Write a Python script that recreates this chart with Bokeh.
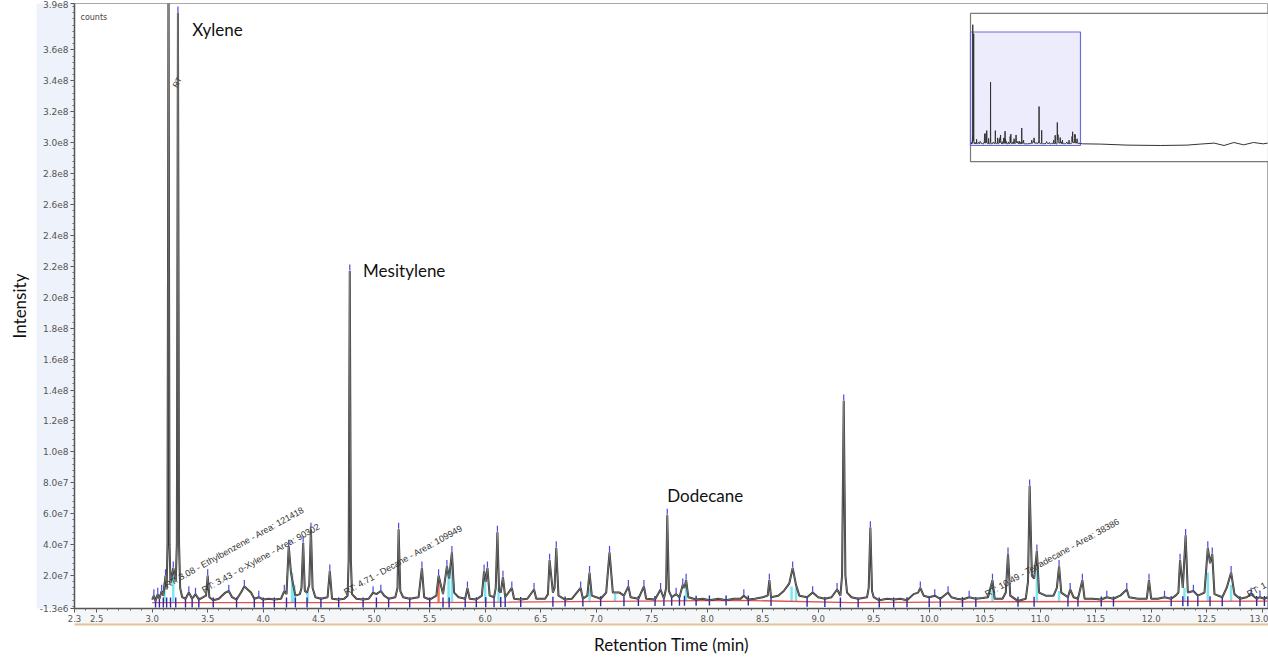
import numpy as np
from bokeh.plotting import figure
from bokeh.models import Range1d, LinearAxis, FixedTicker, PrintfTickFormatter
from bokeh.core.properties import value
from bokeh.embed import file_html
from bokeh.resources import INLINE

# ---------------- data ----------------
trace_t = [3.00, 3.015, 3.03, 3.05, 3.065, 3.085, 3.10, 3.12, 3.13, 3.138,
           3.147, 3.156, 3.165, 3.19, 3.212, 3.222, 3.232, 3.242, 3.252, 3.27,
           3.30, 3.33, 3.36, 3.39, 3.42, 3.46, 3.485, 3.50, 3.515, 3.55,
           3.60, 3.66, 3.69, 3.72, 3.76, 3.80, 3.83, 3.86, 3.89, 3.92,
           3.96, 4.00, 4.05, 4.10, 4.16, 4.19, 4.21, 4.23, 4.25, 4.27,
           4.29, 4.33, 4.345, 4.36, 4.375, 4.395, 4.415, 4.43, 4.445, 4.47,
           4.52, 4.58, 4.60, 4.62, 4.68, 4.73, 4.76, 4.77, 4.78, 4.79,
           4.80, 4.84, 4.90, 4.95, 4.99, 5.02, 5.06, 5.09, 5.13, 5.19,
           5.21, 5.22, 5.235, 5.26, 5.32, 5.40, 5.43, 5.45, 5.50, 5.56,
           5.58, 5.62, 5.655, 5.675, 5.70, 5.72, 5.76, 5.82, 5.84, 5.86,
           5.92, 5.97, 5.99, 6.005, 6.02, 6.04, 6.08, 6.095, 6.11, 6.125,
           6.14, 6.16, 6.18, 6.24, 6.26, 6.32, 6.38, 6.44, 6.46, 6.54,
           6.565, 6.58, 6.61, 6.625, 6.64, 6.66, 6.72, 6.78, 6.86, 6.88,
           6.92, 6.94, 6.96, 7.04, 7.09, 7.12, 7.15, 7.21, 7.25, 7.29,
           7.31, 7.38, 7.43, 7.45, 7.53, 7.58, 7.61, 7.63, 7.64, 7.655,
           7.68, 7.72, 7.75, 7.78, 7.795, 7.81, 7.83, 7.90, 7.96, 8.02,
           8.10, 8.17, 8.24, 8.30, 8.33, 8.37, 8.43, 8.50, 8.545, 8.56,
           8.575, 8.64, 8.69, 8.74, 8.77, 8.80, 8.83, 8.90, 8.95, 9.00,
           9.06, 9.12, 9.17, 9.20, 9.215, 9.23, 9.245, 9.26, 9.30, 9.36,
           9.44, 9.455, 9.47, 9.485, 9.50, 9.55, 9.62, 9.68, 9.74, 9.80,
           9.86, 9.90, 9.92, 9.95, 10.00, 10.05, 10.10, 10.17, 10.20, 10.25,
           10.30, 10.36, 10.42, 10.48, 10.53, 10.57, 10.59, 10.66, 10.69, 10.71,
           10.73, 10.80, 10.87, 10.89, 10.905, 10.925, 10.945, 10.97, 10.99, 11.05,
           11.12, 11.15, 11.17, 11.19, 11.25, 11.27, 11.30, 11.34, 11.38, 11.40,
           11.47, 11.55, 11.60, 11.66, 11.72, 11.78, 11.80, 11.88, 11.96, 11.98,
           12.00, 12.06, 12.12, 12.18, 12.22, 12.245, 12.26, 12.285, 12.31, 12.33,
           12.38, 12.42, 12.48, 12.51, 12.53, 12.55, 12.57, 12.64, 12.68, 12.72,
           12.75, 12.80, 12.86, 12.90, 12.95, 12.98, 13.02, 13.05]
trace_i = [4.5e6, 7e6, 3.5e6, 8e6, 5e6, 1.0e7, 7e6, 2.0e7, 1.1e7, 4.0e7,
           4.15e8, 4.0e7, 1.5e7, 2.5e7, 1.6e7, 4.0e7, 3.84e8, 4.0e7, 1.2e7, 6e6,
           5e6, 9e6, 5e6, 8e6, 4.5e6, 6e6, 7e6, 2.0e7, 6e6, 4e6,
           5e6, 9e6, 1.0e7, 6e6, 4.5e6, 9e6, 1.3e7, 1.1e7, 9e6, 5e6,
           6e6, 4.5e6, 5e6, 4.5e6, 5e6, 1.0e7, 8e6, 3.9e7, 2.2e7, 1.4e7,
           7e6, 8e6, 1.2e7, 4.1e7, 1.0e7, 9e6, 1.4e7, 5.0e7, 1.2e7, 6e6,
           5e6, 6e6, 2.3e7, 5e6, 4.5e6, 5e6, 7e6, 3.0e7, 2.17e8, 3.0e7,
           8e6, 5e6, 4.5e6, 5e6, 9e6, 8e6, 1.0e7, 7e6, 5e6, 6e6,
           1.2e7, 5.0e7, 1.0e7, 6e6, 5e6, 6e6, 2.5e7, 6e6, 4.5e6, 7e6,
           2.0e7, 8e6, 2.6e7, 1.8e7, 3.5e7, 9e6, 6e6, 5e6, 1.2e7, 5e6,
           4.5e6, 7e6, 2.3e7, 1.6e7, 2.5e7, 7e6, 6e6, 1.2e7, 4.8e7, 1.0e7,
           9e6, 1.9e7, 6e6, 1.2e7, 5e6, 4.5e6, 5e6, 1.1e7, 5e6, 5e6,
           8e6, 3.0e7, 9e6, 1.2e7, 3.8e7, 7e6, 4.5e6, 5e6, 1.2e7, 5e6,
           7e6, 2.2e7, 7e6, 5e6, 9e6, 3.5e7, 9e6, 9e6, 7e6, 1.3e7,
           6e6, 5e6, 1.3e7, 5e6, 4.5e6, 1.1e7, 5e6, 1.2e7, 5.9e7, 1.0e7,
           6e6, 8e6, 6e6, 1.4e7, 1.2e7, 1.7e7, 6e6, 4.5e6, 5e6, 4e6,
           5e6, 4e6, 5e6, 5e6, 7e6, 4.5e6, 5e6, 6e6, 7e6, 1.7e7,
           6e6, 7e6, 1.0e7, 1.5e7, 2.5e7, 1.4e7, 7e6, 6e6, 9e6, 6e6,
           5e6, 6e6, 1.1e7, 7e6, 2.0e7, 1.33e8, 2.0e7, 9e6, 6e6, 5e6,
           6e6, 1.2e7, 5.1e7, 1.0e7, 6e6, 4e6, 5e6, 4.5e6, 5e6, 4e6,
           8e6, 9e6, 1.2e7, 7e6, 6e6, 7e6, 5e6, 9e6, 6e6, 5e6,
           4.5e6, 6e6, 5e6, 5.5e6, 6e6, 1.7e7, 5e6, 5e6, 9e6, 3.4e7,
           7e6, 3.5e6, 5e6, 1.6e7, 7.8e7, 2.0e7, 1.8e7, 3.6e7, 9e6, 7e6,
           7e6, 1.2e7, 2.6e7, 9e6, 6e6, 1.1e7, 6e6, 5e6, 1.7e7, 5e6,
           5e6, 4.5e6, 6e6, 5e6, 7e6, 1.1e7, 6e6, 5e6, 5e6, 1.7e7,
           5e6, 5e6, 6e6, 5e6, 7e6, 9e6, 3.0e7, 1.2e7, 4.6e7, 9e6,
           1.0e7, 7e6, 9e6, 3.8e7, 2.8e7, 3.4e7, 8e6, 6e6, 1.2e7, 2.2e7,
           8e6, 5e6, 6e6, 8e6, 5e6, 6e6, 5e6, 6e6]
assert len(trace_t) == len(trace_i)

# rest of the run, only visible in the overview inset
tail_t = [13.2, 14.9, 17.3, 20.4, 22.8, 24.0, 25.3, 26.2, 27.1, 28.0, 28.9, 29.8, 30.2]
tail_i = [4.5e6, 3.5e6, 0.0, -1.3e6, 0.0, 3.5e6, 6.9e6, -1.3e6, 9e6, 1e6, 9e6, 4.5e6, 6.9e6]

# integration baseline (red)
base_t = [3.0, 5.5, 8.3, 9.3, 10.5, 13.05]
base_i = [2.5e6, 2.5e6, 4.0e6, 2.5e6, 3.0e6, 3.5e6]

# shaded (integrated) shoulder areas
cyan_t = [3.11, 3.19, 4.26, 4.28, 4.40, 5.67, 5.70, 6.00, 6.12, 6.94, 7.17, 7.81, 8.76, 8.80, 10.57, 10.97,
          11.17, 12.30, 12.51, 12.72]
cyan_top = [1.5e7, 2.2e7, 2.2e7, 1.4e7, 1.0e7, 2.2e7, 2.5e7, 1.8e7, 1.2e7, 1.2e7, 8e6, 1.2e7, 1.3e7, 1.2e7,
            1.2e7, 2.4e7, 1.0e7, 1.2e7, 2.2e7, 1.4e7]
orange_t = [5.58]
orange_top = [1.8e7]

# compound names
name_text = ["Xylene", "Mesitylene", "Dodecane"]
name_t = [3.36, 4.90, 7.64]
name_i = [3.73e8, 2.17e8, 7.15e7]

# peak annotations
ann_text = ["RT: 3.08 - Ethylbenzene - Area: 121418", "RT: 3.43 - o-Xylene - Area: 90302",
            "RT: 4.71 - Decane - Area: 109949", "RT: 10.49 - Tetradecane - Area: 38386", "RT: 1"]
ann_t = [3.12, 3.453, 4.732, 10.507, 12.867]
ann_i = [1.35e7, 1.03e7, 0.9e7, 0.77e7, 0.77e7]

x_ticks = [2.3, 2.5, 3.0, 3.5, 4.0, 4.5, 5.0, 5.5, 6.0, 6.5, 7.0, 7.5, 8.0, 8.5, 9.0, 9.5, 10.0, 10.5, 11.0,
           11.5, 12.0, 12.5, 13.0]
y_ticks = [-1.3e6, 2e7, 4e7, 6e7, 8e7, 1e8, 1.2e8, 1.4e8, 1.6e8, 1.8e8, 2e8, 2.2e8, 2.4e8, 2.6e8, 2.8e8,
           3e8, 3.2e8, 3.4e8, 3.6e8, 3.9e8]
y_tick_labels = ["-1.3e6", "2.0e7", "4.0e7", "6.0e7", "8.0e7", "1.0e8", "1.2e8", "1.4e8", "1.6e8", "1.8e8",
                 "2.0e8", "2.2e8", "2.4e8", "2.6e8", "2.8e8", "3.0e8", "3.2e8", "3.4e8", "3.6e8", "3.9e8"]

# ---------------- layout (page pixels) ----------------
W, H = 1268, 657
FRAME_L, FRAME_R, FRAME_T, FRAME_B = 74, 1268, 3, 611
PX_PER_MIN = 111.0
X0, Y0, Y1 = 2.3, -1.3e6, 3.9e8
X1 = X0 + (FRAME_R - FRAME_L) / PX_PER_MIN

# overview inset mapping
IN_L, IN_R, IN_T, IN_B = 970, 1268, 13, 162
IN_T0, IN_PX_PER_MIN = 2.94, 10.9
IN_BASE_PY, IN_PER_PX = 145.7, 3.43e6
VIEW_T0, VIEW_T1 = 2.94, 13.03


def in_t(px):
    return IN_T0 + (px - IN_L) / IN_PX_PER_MIN


def in_i(py):
    return Y0 + (IN_BASE_PY - py) * IN_PER_PX


p = figure(width=W, height=H, x_range=Range1d(X0, X1), y_range=Range1d(Y0, Y1),
           output_backend="svg", toolbar_location=None,
           min_border_left=FRAME_L, min_border_right=0, min_border_top=FRAME_T,
           min_border_bottom=H - FRAME_B,
           background_fill_color="white", border_fill_color="white",
           outline_line_color="#a8a8a8", outline_line_width=1)
p.grid.visible = False
p.extra_x_ranges = {"ix": Range1d(in_t(FRAME_L), in_t(FRAME_R))}
p.extra_y_ranges = {"iy": Range1d(in_i(FRAME_B), in_i(FRAME_T))}

# --- axes ---
xa = p.xaxis[0]
xa.ticker = FixedTicker(ticks=x_ticks, minor_ticks=[round(v, 1) for v in np.arange(2.3, 13.05, 0.1)])
xa.formatter = PrintfTickFormatter(format="%.1f")
ya = p.yaxis[0]
ya.ticker = FixedTicker(ticks=y_ticks, minor_ticks=list(np.arange(0, 3.9e8, 4e6)))
ya.major_label_overrides = {int(v): s for v, s in zip(y_ticks, y_tick_labels)}
for ax, fs in ((xa, "8.5px"), (ya, "9px")):
    ax.axis_line_color = "#555555"
    ax.axis_line_width = 1.5
    ax.major_tick_line_color = "#555555"
    ax.minor_tick_line_color = "#666666"
    ax.major_tick_out = 4
    ax.major_tick_in = 0
    ax.minor_tick_out = 2
    ax.minor_tick_in = 0
    ax.major_label_standoff = 2
    ax.major_label_text_font = "DejaVu Sans"
    ax.major_label_text_font_size = fs
    ax.major_label_text_color = "#555555"
ya.background_fill_color = "#eef3fb"
xa.background_fill_color = "#f5f6f8"

ylab = LinearAxis(ticker=FixedTicker(ticks=[]), axis_label="Intensity", axis_line_color=None,
                  major_tick_out=0, major_tick_in=0, minor_tick_out=0, minor_tick_in=0,
                  major_label_standoff=0, axis_label_standoff=7,
                  axis_label_text_font="Lato", axis_label_text_font_size="17px",
                  axis_label_text_font_style="normal", axis_label_text_color="#111111")
p.add_layout(ylab, "left")
xlab = LinearAxis(ticker=FixedTicker(ticks=[]), axis_label="Retention Time (min)",
                  axis_line_color="#e3c395", axis_line_width=2,
                  major_tick_out=0, major_tick_in=0, minor_tick_out=0, minor_tick_in=0,
                  major_label_standoff=0, axis_label_standoff=9,
                  axis_label_text_font="Lato", axis_label_text_font_size="17px",
                  axis_label_text_font_style="normal", axis_label_text_color="#111111")
p.add_layout(xlab, "below")

# --- shaded areas ---
cb = np.interp(cyan_t, base_t, base_i)
p.vbar(x=cyan_t, width=0.022, top=cyan_top, bottom=cb, fill_color="#7ee6ef", line_color=None)
ob = np.interp(orange_t, base_t, base_i)
p.vbar(x=orange_t, width=0.022, top=orange_top, bottom=ob, fill_color="#f07a5a", line_color=None)

# --- baseline ---
p.line(base_t, base_i, line_color="#e25050", line_width=1.3)

# valley markers (blue ticks crossing the baseline)
ti = np.array(trace_i)
tt = np.array(trace_t)
vmask = np.zeros(len(ti), bool)
vmask[1:-1] = (ti[1:-1] < ti[:-2]) & (ti[1:-1] < ti[2:])
vt = tt[vmask]
p.scatter(vt, np.interp(vt, base_t, base_i), marker="dash", angle=np.pi / 2, size=10,
          line_color="#2a2aa8", line_width=1.4)

# --- trace ---
p.line(trace_t, trace_i, line_color="#303030", line_width=2.0)
p.line(trace_t, trace_i, line_color="#9c9c9c", line_width=0.6)

# peak top markers
pmask = np.zeros(len(ti), bool)
pmask[1:-1] = (ti[1:-1] > ti[:-2]) & (ti[1:-1] > ti[2:]) & (ti[1:-1] > 5.5e6)
p.scatter(tt[pmask], ti[pmask] + 2.2e6, marker="dash", angle=np.pi / 2, size=6,
          line_color="#4a4ae0", line_width=1.2)

# --- annotations ---
p.text(x=ann_t, y=ann_i, text=ann_text, angle=0.506, text_font=value("Liberation Sans"),
       text_font_size="9px", text_color="#333333", text_baseline="middle", text_align="left")
p.text(x=[3.228], y=[3.39e8], text=["RT"], angle=1.05, text_font=value("Liberation Sans"),
       text_font_size="8px", text_color="#3a3a3a", text_baseline="middle", text_align="center")
p.text(x=[X0 + 6 / PX_PER_MIN], y=[Y1 - 14 * (Y1 - Y0) / (FRAME_B - FRAME_T)], text=["counts"],
       text_font=value("DejaVu Sans"), text_font_size="8px", text_color="#444444",
       text_baseline="middle", text_align="left")
p.text(x=name_t, y=name_i, text=name_text, text_font=value("Lato"), text_font_size="17px",
       text_color="#111111", text_baseline="middle", text_align="left")

# --- overview inset ---
p.quad(left=[in_t(IN_L)], right=[in_t(IN_R)], bottom=[in_i(IN_B)], top=[in_i(IN_T)],
       fill_color="white", line_color="#7a7a7a", line_width=1.2, x_range_name="ix", y_range_name="iy")
p.quad(left=[VIEW_T0], right=[VIEW_T1], bottom=[Y0], top=[Y1],
       fill_color="#ececfd", line_color="#6c6cd8", line_width=1.2, x_range_name="ix", y_range_name="iy")
p.line(list(trace_t) + tail_t, list(trace_i) + tail_i, line_color="#333333", line_width=1,
       x_range_name="ix", y_range_name="iy")

open("out.html", "w").write(file_html(p, INLINE))
